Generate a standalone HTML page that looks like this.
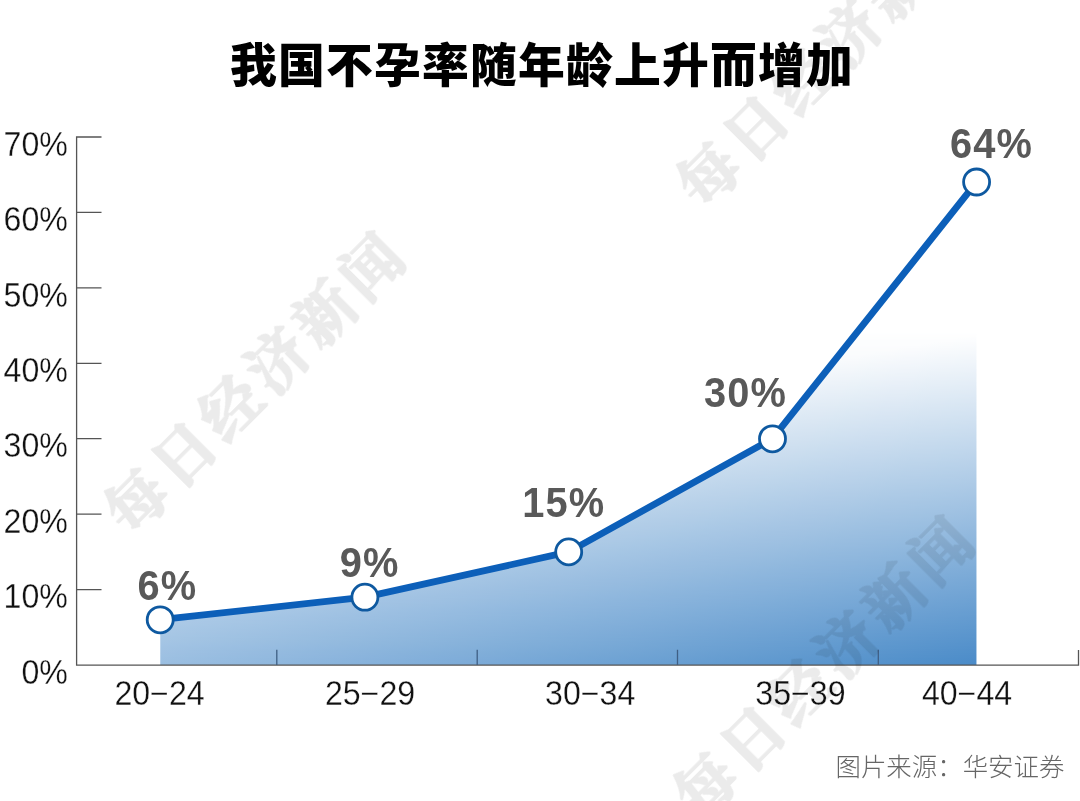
<!DOCTYPE html>
<html lang="zh-CN">
<head>
<meta charset="utf-8">
<title>我国不孕率随年龄上升而增加</title>
<style>
html,body{margin:0;padding:0;background:#fff;}
body{width:1080px;height:801px;overflow:hidden;position:relative;}
svg{position:absolute;left:0;top:0;display:block;}
.title{font-family:"Liberation Sans","Noto Sans CJK SC",sans-serif;font-weight:900;font-size:46.8px;letter-spacing:1.2px;fill:#000;}
.ax{font-family:"Liberation Sans",sans-serif;font-size:34.2px;fill:#111;stroke:#fff;stroke-width:0.3px;}
.val{font-family:"Liberation Sans",sans-serif;font-weight:700;font-size:42.1px;letter-spacing:1.2px;fill:#595959;}
.src{font-family:"Liberation Sans","Noto Sans CJK SC",sans-serif;font-weight:300;font-size:25.45px;fill:#666;}
.wm{font-family:"Liberation Serif","Noto Serif CJK SC",serif;font-weight:700;font-size:60px;fill:#000;stroke:#000;stroke-width:2px;stroke-linejoin:round;letter-spacing:6.5px;}
</style>
</head>
<body>
<svg width="1080" height="801" viewBox="0 0 1080 801">
<defs>
<linearGradient id="g" gradientUnits="userSpaceOnUse" x1="976" y1="335" x2="1031.5" y2="657">
<stop offset="0" stop-color="#ffffff"/>
<stop offset="1" stop-color="#4a8bc8"/>
</linearGradient>
<linearGradient id="gh" gradientUnits="userSpaceOnUse" x1="160" y1="0" x2="976" y2="0">
<stop offset="0" stop-color="#9ec1e4"/>
<stop offset="1" stop-color="#4a8bc9"/>
</linearGradient>
<linearGradient id="gv" gradientUnits="userSpaceOnUse" x1="0" y1="332" x2="0" y2="665">
<stop offset="0" stop-color="#fff" stop-opacity="0"/>
<stop offset="1" stop-color="#fff" stop-opacity="1"/>
</linearGradient>
<mask id="m" style="mask-type:alpha" maskUnits="userSpaceOnUse" x="0" y="0" width="1080" height="801"><rect x="0" y="0" width="1080" height="801" fill="url(#gv)"/></mask>
</defs>
<rect width="1080" height="801" fill="#fff"/>
<!-- area -->
<path d="M160.3 619.7 L364.9 597.1 L568.7 551.9 L772.4 438.7 L976.4 182.2 L976.4 665 L160.3 665 Z" fill="url(#g)"/>
<g opacity="0.4"><path d="M160.3 619.7 L364.9 597.1 L568.7 551.9 L772.4 438.7 L976.4 182.2 L976.4 665 L160.3 665 Z" fill="#fff"/><path d="M160.3 619.7 L364.9 597.1 L568.7 551.9 L772.4 438.7 L976.4 182.2 L976.4 665 L160.3 665 Z" fill="url(#gh)" mask="url(#m)"/></g>
<!-- axes -->
<g stroke="#555" stroke-width="1.3" fill="none">
<path d="M101.5 137 H76.6 V665.1 H1078.5 V650"/>
<path d="M76.6 212.4 H101.5 M76.6 287.9 H101.5 M76.6 363.3 H101.5 M76.6 438.7 H101.5 M76.6 514.1 H101.5 M76.6 589.6 H101.5"/>
<path d="M276.8 665.1 V649.7 M477.2 665.1 V649.7 M677.5 665.1 V649.7 M878.3 665.1 V649.7" stroke="#3f5f84"/>
</g>
<!-- line -->
<path d="M160.2 619.7 L364.9 597.1 L568.7 551.9 L772.4 438.7 L976.5 182.2" fill="none" stroke="#0c5fb9" stroke-width="6.8" stroke-linejoin="round"/>
<g fill="#fff" stroke="#0e59a0" stroke-width="2.8">
<circle cx="160.2" cy="619.8" r="13"/>
<circle cx="364.9" cy="597.2" r="13"/>
<circle cx="568.7" cy="551.9" r="13"/>
<circle cx="772.5" cy="438.8" r="13"/>
<circle cx="976.6" cy="182" r="13"/>
</g>
<!-- title -->
<text class="title" x="230" y="82.4">我国不孕率随年龄上升而增加</text>
<!-- y labels -->
<g class="ax" text-anchor="end">
<text transform="translate(67.9 155.7) scale(0.94 1)">70%</text>
<text transform="translate(67.9 231.1) scale(0.94 1)">60%</text>
<text transform="translate(67.9 306.6) scale(0.94 1)">50%</text>
<text transform="translate(67.9 382.0) scale(0.94 1)">40%</text>
<text transform="translate(67.9 457.4) scale(0.94 1)">30%</text>
<text transform="translate(67.9 532.9) scale(0.94 1)">20%</text>
<text transform="translate(67.9 608.3) scale(0.94 1)">10%</text>
<text transform="translate(67.9 683.7) scale(0.94 1)">0%</text>
</g>
<!-- x labels -->
<g class="ax" text-anchor="middle">
<text transform="translate(159.5 704.6) scale(0.94 1)">20−24</text>
<text transform="translate(370.0 704.6) scale(0.94 1)">25−29</text>
<text transform="translate(590.2 704.6) scale(0.94 1)">30−34</text>
<text transform="translate(800.4 704.6) scale(0.94 1)">35−39</text>
<text transform="translate(967.0 704.6) scale(0.94 1)">40−44</text>
</g>
<!-- value labels -->
<g class="val" text-anchor="middle">
<text transform="translate(167.3 599.5) scale(0.945 1)">6%</text>
<text transform="translate(369.7 577.3) scale(0.945 1)">9%</text>
<text transform="translate(563.7 516.6) scale(0.945 1)">15%</text>
<text transform="translate(745.5 407.2) scale(0.945 1)">30%</text>
<text transform="translate(991.5 157.6) scale(0.945 1)">64%</text>
</g>
<!-- source -->
<text class="src" x="1064.4" y="776" text-anchor="end">图片来源：华安证券</text>
<!-- watermarks -->
<g class="wm" text-anchor="middle" opacity="0.08">
<text transform="translate(254.4 384) rotate(-45)" x="3" y="22">每日经济新闻</text>
<text transform="translate(826.5 57.5) rotate(-45)" x="3" y="22">每日经济新闻</text>
<text transform="translate(823.5 668) rotate(-45)" x="3" y="22">每日经济新闻</text>
</g>
</svg>
</body>
</html>
